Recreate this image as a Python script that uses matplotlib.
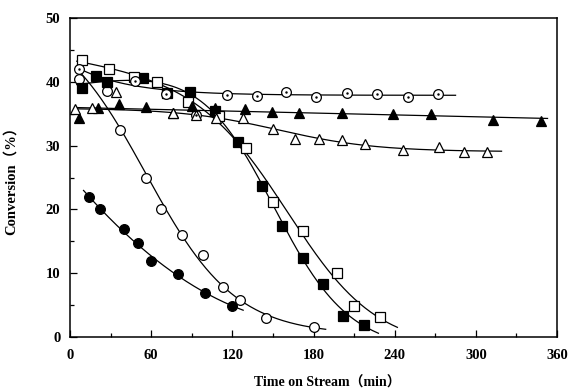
import matplotlib
matplotlib.use("Agg")
import matplotlib.pyplot as plt
import numpy as np

# ── Data ─────────────────────────────────────────────────────────────────────

# filled circles
T_FC = [14, 22, 40, 50, 60, 80, 100, 120]
C_FC = [22.0, 20.0, 16.9, 14.8, 11.9, 9.8, 6.8, 4.9]
# open circles
T_OC = [7, 27, 37, 56, 67, 83, 98, 113, 126, 145, 180]
C_OC = [40.5, 38.6, 32.4, 25.0, 20.0, 16.0, 12.9, 7.8, 5.8, 2.9, 1.5]
# filled squares
T_FS = [9, 19, 27, 54, 72, 89, 107, 124, 142, 157, 172, 187, 202, 217]
C_FS = [39.0, 41.0, 40.0, 40.6, 38.3, 38.5, 35.4, 30.6, 23.7, 17.4, 12.4, 8.3, 3.3, 1.9]
# open squares
T_OS = [9, 29, 47, 64, 87, 110, 130, 150, 172, 197, 210, 229]
C_OS = [43.4, 42.0, 40.8, 40.0, 36.9, 34.6, 29.6, 21.1, 16.6, 10.0, 4.9, 3.1]
# dotted circles
T_DC = [7, 48, 71, 93, 116, 138, 160, 182, 205, 227, 250, 272]
C_DC = [42.0, 40.1, 38.1, 34.8, 37.9, 37.8, 38.4, 37.7, 38.3, 38.1, 37.7, 38.2]
# filled triangles
T_FT = [7, 21, 36, 56, 76, 90, 107, 129, 149, 169, 201, 239, 267, 313, 348]
C_FT = [34.4, 35.9, 36.5, 36.1, 35.2, 36.2, 35.9, 35.7, 35.3, 35.2, 35.1, 35.0, 35.0, 34.1, 33.9]
# open triangles
T_OT = [4, 16, 34, 76, 93, 108, 128, 150, 166, 184, 201, 218, 246, 273, 291, 308]
C_OT = [35.7, 35.9, 38.5, 35.1, 34.8, 34.3, 34.3, 32.7, 31.1, 31.1, 30.9, 30.3, 29.3, 29.8, 29.0, 29.0]

XTICKS = [0, 60, 120, 180, 240, 300, 360]
YTICKS = [0, 10, 20, 30, 40, 50]


# ── Smooth trend lines fitted to each series ─────────────────────────────────

def lsq(cols, y):
    A = np.column_stack(cols)
    coef, *_ = np.linalg.lstsq(A, y, rcond=None)
    return coef, np.sum((A @ coef - y) ** 2)


def fit_poly(t, c, deg):
    coef = np.polyfit(t, c, deg)
    return lambda x: np.polyval(coef, x)


def fit_exp(t, c):
    # c = a + b * exp(-t / tau), tau by grid search
    t, c = np.asarray(t, float), np.asarray(c, float)
    best = None
    for tau in np.linspace(5, 1500, 600):
        coef, err = lsq([np.ones_like(t), np.exp(-t / tau)], c)
        if best is None or err < best[0]:
            best = (err, tau, coef)
    _, tau, (a, b) = best
    return lambda x: a + b * np.exp(-np.asarray(x, float) / tau)


def fit_sigmoid(t, c, slope=False):
    # c = B + A / (1 + exp((t - t0) / w)) [+ C s t]
    t, c = np.asarray(t, float), np.asarray(c, float)
    best = None
    for t0 in np.linspace(20, 250, 116):
        for w in np.linspace(5, 80, 76):
            s = 1 / (1 + np.exp((t - t0) / w))
            cols = [np.ones_like(t), s] + ([s * t] if slope else [])
            coef, err = lsq(cols, c)
            if best is None or err < best[0]:
                best = (err, t0, w, coef)
    _, t0, w, coef = best

    def f(x):
        x = np.asarray(x, float)
        s = 1 / (1 + np.exp((x - t0) / w))
        out = coef[0] + coef[1] * s
        if slope:
            out = out + coef[2] * s * x
        return out
    return f


def robust(fitter, t, c, cut=2.0):
    # fit once, drop stray points, fit again
    t, c = np.asarray(t, float), np.asarray(c, float)
    f = fitter(t, c)
    keep = np.abs(f(t) - c) < cut
    return fitter(t[keep], c[keep])


def trend(ax, f, t0, t1):
    tt = np.linspace(t0, t1, 300)
    ax.plot(tt, f(tt), color="black", lw=0.9, zorder=2)


plt.rcParams["font.family"] = ["Liberation Serif", "Noto Sans CJK JP"]
plt.rcParams["font.weight"] = "bold"

fig = plt.figure(figsize=(5.71, 3.92), dpi=100)
ax = fig.add_axes([0.1226, 0.141, 0.8529, 0.812])

mk = dict(color="black", mec="black", mew=0.9, ls="none", zorder=3)
ax.plot(T_FC, C_FC, "o", ms=7, mfc="black", **mk)
ax.plot(T_OC, C_OC, "o", ms=7, mfc="white", **mk)
ax.plot(T_FS, C_FS, "s", ms=6.5, mfc="black", **mk)
ax.plot(T_OS, C_OS, "s", ms=6.5, mfc="white", **mk)
ax.plot(T_DC, C_DC, "o", ms=7, mfc="white", **mk)
ax.plot(T_DC, C_DC, ".", ms=1.5, color="black", ls="none", zorder=4)
ax.plot(T_FT, C_FT, "^", ms=7, mfc="black", **mk)
ax.plot(T_OT, C_OT, "^", ms=7, mfc="white", **mk)

trend(ax, fit_poly(T_FC, C_FC, 2), 10, 128)
trend(ax, fit_sigmoid(T_OC, C_OC), 5, 189)
trend(ax, fit_sigmoid(T_FS, C_FS, slope=True), 5, 228)
trend(ax, fit_sigmoid(T_OS, C_OS, slope=True), 5, 242)
trend(ax, robust(fit_exp, T_DC, C_DC), 5, 285)
trend(ax, fit_poly(T_FT, C_FT, 1), 5, 353)
trend(ax, robust(fit_sigmoid, T_OT, C_OT), 5, 319)

ax.set_xlim(0, 360)
ax.set_ylim(0, 50)
ax.set_xticks(XTICKS)
ax.set_yticks(YTICKS)
ax.set_xticks(np.arange(30, 360, 60), minor=True)
ax.set_yticks(np.arange(5, 50, 10), minor=True)
ax.tick_params(which="both", direction="in", top=False, right=False,
               labelsize=10.5, width=0.9)
ax.tick_params(which="major", length=5)
ax.tick_params(which="minor", length=3)
ax.tick_params(axis="x", pad=9)
ax.tick_params(axis="y", pad=7)
for s in ax.spines.values():
    s.set_linewidth(1.1)

ax.set_xlabel("Time on Stream（min）", fontsize=10, fontweight="bold")
ax.set_ylabel("Conversion（%）", fontsize=10.5, fontweight="bold")
ax.xaxis.set_label_coords(0.528, -0.125)
ax.yaxis.set_label_coords(-0.107, 0.50)

fig.savefig("out.png", dpi=100)
